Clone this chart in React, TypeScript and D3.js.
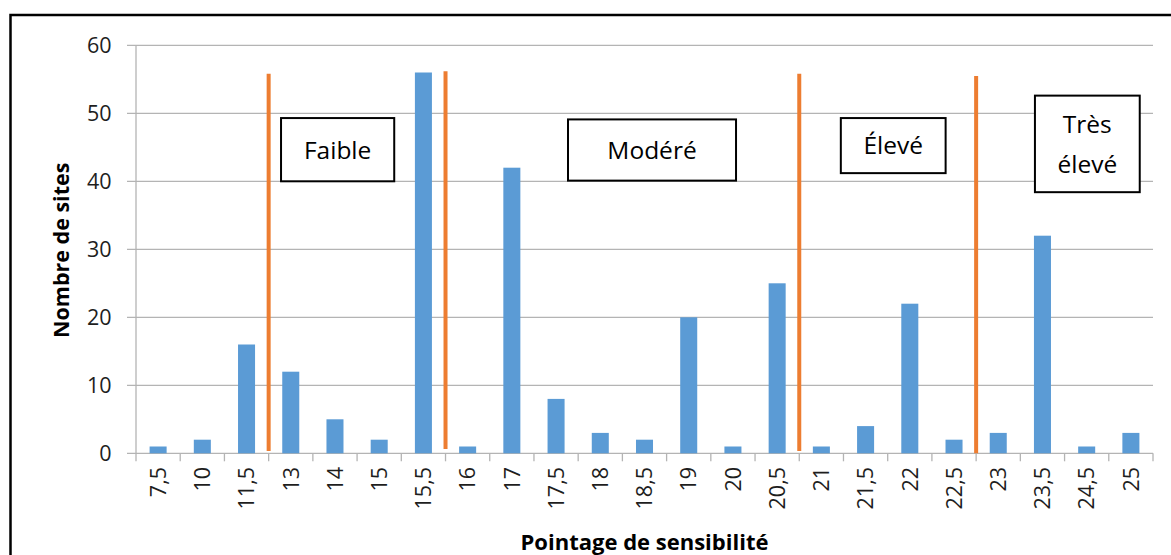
import React from "react";
import * as d3 from "d3";

const categories = ["7,5","10","11,5","13","14","15","15,5","16","17","17,5","18","18,5","19","20","20,5","21","21,5","22","22,5","23","23,5","24,5","25"];
const siteCounts = [1,2,16,12,5,2,56,1,42,8,3,2,20,1,25,1,4,22,2,3,32,1,3];
const yTicks = [0,10,20,30,40,50,60];

// orange threshold lines, drawn after these categories
const thresholdAfter = ["11,5","15,5","20,5","22,5"];
const thresholdTop = [55.8,56.2,55.8,55.5];
const thresholdBottom = [0.35,0.65,0.35,0];

// class label boxes (index units on x, values on y)
const classLabels = [["Faible"],["Modéré"],["Élevé"],["Très","élevé"]];
const classX0 = [3.28, 9.77, 15.94, 20.33];
const classX1 = [5.84, 13.57, 18.31, 22.7];
const classY0 = [40.0, 40.1, 41.2, 38.4];
const classY1 = [49.3, 49.1, 49.3, 52.6];

const W = 1171, H = 555;
const left = 136, right = 1153, top = 45.3, bottom = 453.3;
const FONT = "'Open Sans', sans-serif";

export default function App() {
  const x = d3.scaleBand<string>().domain(categories).range([left, right]).paddingInner(0.615).paddingOuter(0.3075);
  const xi = d3.scaleLinear().domain([0, categories.length]).range([left, right]);
  const y = d3.scaleLinear().domain([0, 60]).range([bottom, top]);
  const step = x.step();
  const boundaries = d3.range(categories.length + 1).map((i) => xi(i));

  return (
    <svg width={W} height={H} style={{ position: "absolute", left: 0, top: 0, background: "#fff" }} fontFamily={FONT}>
      <rect x={0} y={0} width={W} height={H} fill="#fff" />
      <rect x={10.5} y={15} width={W + 20} height={H + 20} fill="none" stroke="#000" strokeWidth={2.5} />
      {/* gridlines */}
      {yTicks.map((t) => (
        <line key={"g" + t} x1={left - 9} x2={right} y1={y(t)} y2={y(t)} stroke="#b4b4b4" strokeWidth={1.3} />
      ))}
      {/* y axis line */}
      <line x1={left} x2={left} y1={top} y2={bottom} stroke="#b4b4b4" strokeWidth={1.3} />
      {/* x ticks */}
      {boundaries.map((b, i) => (
        <line key={"t" + i} x1={b} x2={b} y1={bottom} y2={bottom + 8} stroke="#b4b4b4" strokeWidth={1.3} />
      ))}
      {/* y tick labels */}
      {yTicks.map((t) => (
        <text key={"yl" + t} x={111.5} y={y(t)} dy="0.36em" textAnchor="end" fontSize={21.5} fill="#1e1e1e">{t}</text>
      ))}
      {/* bars */}
      {categories.map((c, i) => (
        <rect key={"b" + c} x={x(c)} y={y(siteCounts[i])} width={x.bandwidth()} height={y(0) - y(siteCounts[i])} fill="#5b9bd5" />
      ))}
      {/* threshold lines */}
      {thresholdAfter.map((c, i) => {
        const px = (x(c) as number) + x.bandwidth() / 2 + step / 2;
        return <line key={"o" + i} x1={px} x2={px} y1={y(thresholdTop[i])} y2={y(thresholdBottom[i])} stroke="#ed7d31" strokeWidth={4} />;
      })}
      {/* x tick labels */}
      {categories.map((c) => {
        const cx = (x(c) as number) + x.bandwidth() / 2;
        return (
          <text key={"xl" + c} transform={`translate(${cx},${467}) rotate(-90)`} dy="0.36em" textAnchor="end" fontSize={21.5} fill="#1e1e1e">{c}</text>
        );
      })}
      {/* class boxes */}
      {classLabels.map((lines, i) => {
        const x0 = xi(classX0[i]), x1 = xi(classX1[i]);
        const y0 = y(classY1[i]), y1 = y(classY0[i]);
        const cx = (x0 + x1) / 2, cy = (y0 + y1) / 2;
        const lh = 40;
        return (
          <g key={"c" + i}>
            <rect x={x0} y={y0} width={x1 - x0} height={y1 - y0} fill="#fff" stroke="#000" strokeWidth={2} />
            {lines.map((ln, j) => (
              <text key={j} x={cx} y={cy + (j - (lines.length - 1) / 2) * lh} dy="0.36em" textAnchor="middle" fontSize={24.5} fill="#000">{ln}</text>
            ))}
          </g>
        );
      })}
      {/* axis titles */}
      <text transform={`translate(69,${(top + bottom) / 2 + 1}) rotate(-90)`} textAnchor="middle" fontSize={21.5} fontWeight="bold" fill="#000">Nombre de sites</text>
      <text x={(left + right) / 2} y={550} textAnchor="middle" fontSize={22} fontWeight="bold" fill="#000">Pointage de sensibilité</text>
    </svg>
  );
}
